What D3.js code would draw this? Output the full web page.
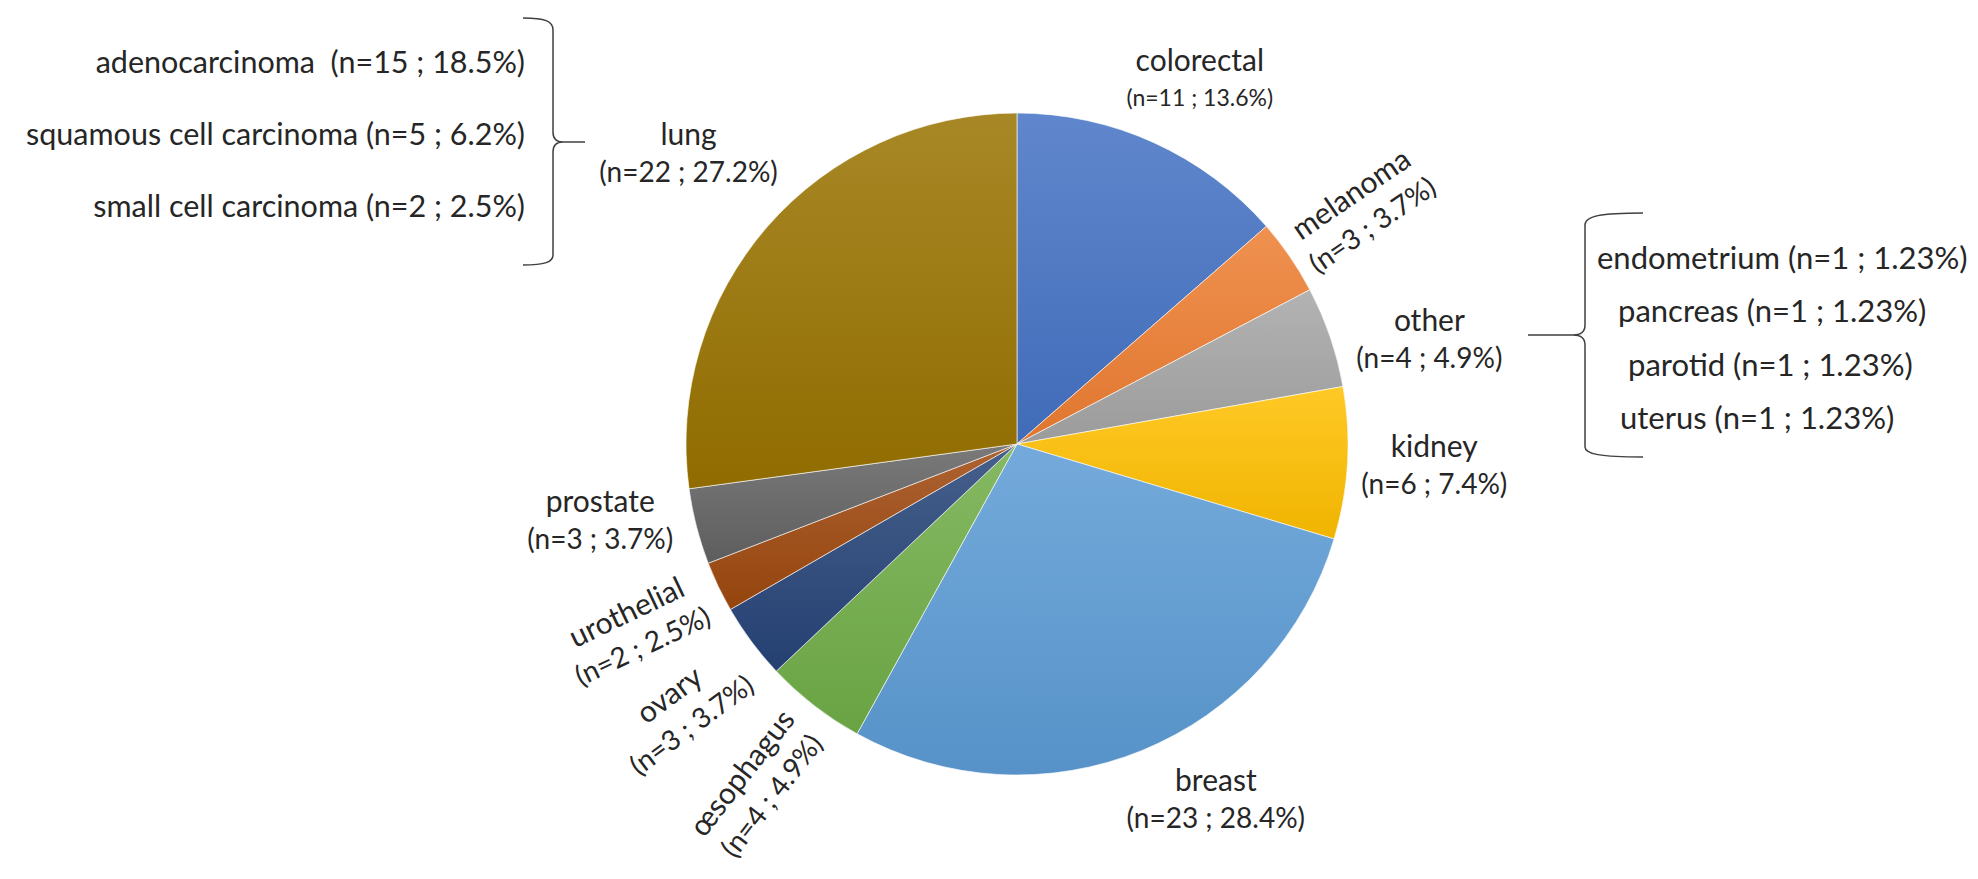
<!DOCTYPE html>
<html>
<head>
<meta charset="utf-8">
<script src="https://cdn.jsdelivr.net/npm/d3@7"></script>
<style>
  body { margin: 0; background: #fff; }
  svg { display: block; }
  text { fill: #262626; white-space: pre; }
</style>
</head>
<body>
<div id="chart"></div>
<script>
// primary sites, clockwise from 12 o'clock
const categories = ['colorectal', 'melanoma', 'other', 'kidney', 'breast', 'œsophagus', 'ovary', 'urothelial', 'prostate', 'lung'];
const counts = [11, 3, 4, 6, 23, 4, 3, 2, 3, 22];

// lung breakdown (left brace)
const lungTypes = ['adenocarcinoma ', 'squamous cell carcinoma', 'small cell carcinoma'];
const lungCounts = [15, 5, 2];

// "other" breakdown (right brace)
const otherTypes = ['endometrium', 'pancreas', 'parotid', 'uterus'];
const otherCounts = [1, 1, 1, 1];

const palette = ['#4472c4', '#ed7d31', '#a5a5a5', '#ffc000', '#5b9bd5', '#70ad47', '#264478', '#9e480e', '#636363', '#997300'];

document.addEventListener('DOMContentLoaded', function () {
  drawChart();
});

function drawChart() {
  const W = 1978, H = 879;
  const cx = 1017, cy = 444, R = 331, labelR = 420;
  const total = d3.sum(counts);
  const f1 = d3.format('.1f'), f2 = d3.format('.2f');
  const nText = (n, fmt) => '(n=' + n + ' ; ' + fmt(n / total * 100) + '%)';

  // tweaks from the radial anchor, like excel's "best fit"
  const labelNudge = {
    'colorectal': [9, 18], 'melanoma': [-1, 4], 'other': [15, 32], 'kidney': [-2, -2],
    'breast': [40, -32], 'œsophagus': [-2, 9], 'ovary': [1, 16], 'urothelial': [-3, 5],
    'prostate': [-10, -27], 'lung': [-12, -13]
  };
  const rotated = new Set(['melanoma', 'œsophagus', 'ovary', 'urothelial']);

  const svg = d3.select('#chart')
    .append('svg')
    .attr('width', W)
    .attr('height', H);

  const defs = svg.append('defs');
  palette.forEach(function (c, i) {
    const g = defs.append('linearGradient')
      .attr('id', 'grad-' + i)
      .attr('x1', 0).attr('y1', 0).attr('x2', 0).attr('y2', 1);
    g.append('stop').attr('offset', '0%').attr('stop-color', d3.interpolateRgb(c, '#fff')(0.15));
    g.append('stop').attr('offset', '100%').attr('stop-color', d3.interpolateRgb(c, '#000')(0.06));
  });

  const pie = d3.pie().sort(null).value(d => d);
  const arcs = pie(counts);
  const arc = d3.arc().innerRadius(0).outerRadius(R);
  const labelArc = d3.arc().innerRadius(labelR).outerRadius(labelR);

  const pieG = svg.append('g').attr('transform', 'translate(' + cx + ',' + cy + ')');

  pieG.selectAll('path')
    .data(arcs)
    .enter().append('path')
    .attr('d', arc)
    .attr('fill', (d, i) => 'url(#grad-' + i + ')')
    .attr('stroke', '#fff')
    .attr('stroke-opacity', 0.6)
    .attr('stroke-width', 1);

  // slice labels
  const labels = svg.selectAll('g.label')
    .data(arcs)
    .enter().append('g')
    .attr('class', 'label')
    .attr('transform', function (d, i) {
      const name = categories[i];
      const c = labelArc.centroid(d);
      const nudge = labelNudge[name];
      let t = 'translate(' + (cx + c[0] + nudge[0]) + ',' + (cy + c[1] + nudge[1]) + ')';
      if (rotated.has(name)) {
        const deg = (d.startAngle + d.endAngle) / 2 * 180 / Math.PI;
        t += ' rotate(' + (deg < 180 ? deg - 90 : deg - 270) + ')';
      }
      return t;
    });

  labels.append('text')
    .attr('text-anchor', 'middle')
    .attr('y', (d, i) => i === 0 ? -8.5 : -9.5)
    .style('font-family', 'Lato')
    .style('font-size', '30px')
    .text((d, i) => categories[i]);

  labels.append('text')
    .attr('text-anchor', 'middle')
    .attr('y', (d, i) => i === 0 ? 26.5 : 27.5)
    .style('font-family', 'Lato')
    .style('font-size', (d, i) => i === 0 ? '23px' : '28px')
    .text((d, i) => nText(counts[i], f1));

  // lung subtypes and brace
  const yLung = d3.scalePoint().domain(lungTypes).range([73, 217]);
  svg.append('g').selectAll('text')
    .data(lungTypes)
    .enter().append('text')
    .attr('x', 525)
    .attr('y', d => yLung(d))
    .attr('text-anchor', 'end')
    .style('font-family', 'Lato')
    .style('font-size', '30.5px')
    .text((d, i) => d + ' ' + nText(lungCounts[i], f1));

  svg.append('path')
    .attr('d', 'M523,18 C545,18 553,21 553,30 L553,132 C553,139 556,142 563,142 L585,142 ' +
               'M563,142 C556,142 553,145 553,152 L553,255 C553,262 545,265 523,265')
    .attr('fill', 'none')
    .attr('stroke', '#404040')
    .attr('stroke-width', 1.5);

  // other subtypes and brace
  const yOther = d3.scalePoint().domain(otherTypes).range([269, 429]);
  const otherX = [1597, 1618, 1628, 1620];
  svg.append('g').selectAll('text')
    .data(otherTypes)
    .enter().append('text')
    .attr('x', (d, i) => otherX[i])
    .attr('y', d => yOther(d))
    .style('font-family', 'Lato')
    .style('font-size', '31px')
    .text((d, i) => d + ' ' + nText(otherCounts[i], f2));

  svg.append('path')
    .attr('d', 'M1643,213 C1600,213 1585,216 1585,225 L1585,325 C1585,332 1581,335 1573,335 L1528,335 ' +
               'M1573,335 C1581,335 1585,338 1585,345 L1585,447 C1585,454 1600,457 1643,457')
    .attr('fill', 'none')
    .attr('stroke', '#404040')
    .attr('stroke-width', 1.5);
}
</script>
</body>
</html>
